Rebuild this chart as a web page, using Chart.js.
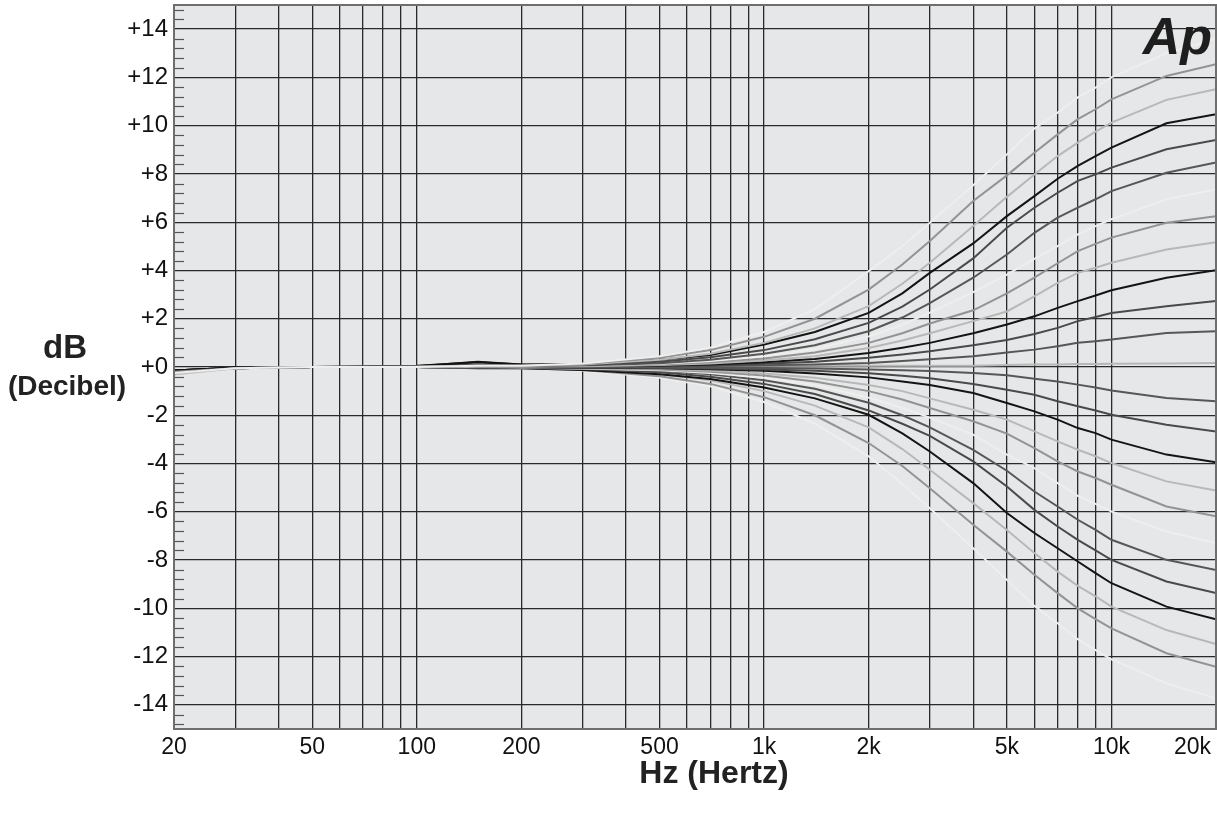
<!DOCTYPE html>
<html><head><meta charset="utf-8">
<script src="https://cdn.jsdelivr.net/npm/chart.js@4.4.0/dist/chart.umd.min.js"></script>
<style>html,body{margin:0;padding:0;background:#fff;overflow:hidden}#wrap{width:1217px;height:818px;position:relative}</style>
</head><body><div id="wrap"><canvas id="c"></canvas></div>
<script>
// Frequency sample points (Hz)
const freqHz = [20,30,50,100,150,200,300,500,700,1000,1400,2000,2500,3000,4000,5000,6000,7000,8000,9000,10000,14400,20000];

// Boost curves (dB), top to bottom at 20 kHz
const boostA = [-0.25,-0.05,0,0,0.05,0.05,0.15,0.45,0.8,1.45,2.4,3.97,5.0,5.98,7.53,8.81,9.88,10.54,11.17,11.58,12.0,13.0,13.6];
const boostB = [-0.2,-0.05,0,0,0.05,0.05,0.12,0.38,0.7,1.25,2.0,3.21,4.25,5.22,6.88,7.94,8.88,9.64,10.27,10.68,11.09,12.06,12.55];
const boostC = [-0.3,-0.05,0,0.02,0.05,0.05,0.1,0.3,0.55,1.0,1.6,2.52,3.45,4.32,5.84,7.05,7.98,8.74,9.3,9.75,10.13,11.07,11.51];
const boostD = [-0.15,-0.03,0,0.05,0.2,0.1,0.12,0.3,0.5,0.93,1.45,2.24,3.05,3.9,5.12,6.25,7.08,7.8,8.33,8.74,9.09,10.1,10.47];
const boostE = [-0.2,-0.05,0,0,0.05,0.05,0.08,0.22,0.4,0.7,1.15,1.83,2.5,3.21,4.5,5.77,6.6,7.22,7.71,7.98,8.26,9.02,9.41];
const boostF = [-0.2,-0.05,0,0,0.05,0.05,0.06,0.16,0.3,0.55,0.9,1.48,2.05,2.65,3.7,4.66,5.56,6.19,6.6,6.95,7.29,8.05,8.47];
const boostG = [-0.3,-0.05,0,0,0.03,0.03,0.05,0.13,0.25,0.45,0.75,1.27,1.75,2.25,3.1,3.83,4.48,5.01,5.49,5.84,6.12,6.95,7.36];
const boostH = [-0.25,-0.05,0,0,0.03,0.03,0.04,0.1,0.2,0.35,0.6,1.0,1.4,1.8,2.35,3.05,3.7,4.3,4.8,5.1,5.36,5.98,6.25];
const boostI = [-0.25,-0.04,0,0,0.03,0.03,0.03,0.08,0.15,0.27,0.45,0.79,1.1,1.4,1.9,2.3,2.93,3.49,3.9,4.11,4.32,4.87,5.17];
const boostJ = [-0.15,-0.03,0,0.03,0.22,0.1,0.05,0.06,0.1,0.2,0.33,0.58,0.8,1.0,1.4,1.76,2.1,2.45,2.73,2.96,3.18,3.7,4.01];
const boostK = [-0.2,-0.04,0,0,0.1,0.05,0.03,0.04,0.07,0.13,0.22,0.38,0.52,0.65,0.9,1.12,1.37,1.62,1.9,2.07,2.24,2.52,2.73];
const boostL = [-0.2,-0.04,0,0,0.08,0.04,0.02,0.02,0.04,0.07,0.1,0.17,0.25,0.32,0.45,0.6,0.72,0.86,1.0,1.07,1.14,1.41,1.48];
const flatCurve = [-0.3,-0.05,0,0.02,0.05,0.05,0.05,0.05,0.05,0.05,0.05,0.05,0.05,0.05,0.05,0.08,0.1,0.1,0.12,0.12,0.13,0.15,0.17];

// Cut curves (dB)
const cutL = [-0.2,-0.04,0,0,-0.02,0,0,-0.02,-0.03,-0.04,-0.06,-0.1,-0.13,-0.17,-0.25,-0.34,-0.49,-0.6,-0.73,-0.85,-0.97,-1.28,-1.42];
const cutK = [-0.2,-0.04,0,0,-0.02,0,-0.02,-0.03,-0.06,-0.1,-0.16,-0.26,-0.36,-0.47,-0.7,-0.94,-1.15,-1.42,-1.63,-1.8,-1.98,-2.39,-2.67];
const cutJ = [-0.15,-0.03,0,0,-0.03,-0.01,-0.03,-0.05,-0.09,-0.16,-0.27,-0.43,-0.6,-0.75,-1.08,-1.49,-1.84,-2.18,-2.53,-2.74,-3.01,-3.63,-3.95];
const cutI = [-0.25,-0.04,0,0,-0.03,-0.02,-0.04,-0.08,-0.15,-0.27,-0.45,-0.75,-1.0,-1.3,-1.77,-2.18,-2.67,-3.08,-3.43,-3.7,-3.98,-4.74,-5.12];
const cutH = [-0.25,-0.05,0,0,-0.03,-0.02,-0.05,-0.1,-0.2,-0.35,-0.6,-1.0,-1.35,-1.7,-2.25,-2.76,-3.36,-3.91,-4.33,-4.6,-4.88,-5.78,-6.19];
const cutG = [-0.3,-0.05,0,0,-0.03,-0.03,-0.06,-0.13,-0.25,-0.45,-0.75,-1.27,-1.7,-2.1,-2.8,-3.63,-4.19,-4.81,-5.34,-5.67,-5.99,-6.82,-7.3];
const cutF = [-0.2,-0.05,0,0,-0.03,-0.03,-0.07,-0.16,-0.3,-0.55,-0.9,-1.48,-2.0,-2.5,-3.43,-4.3,-5.16,-5.78,-6.33,-6.75,-7.16,-7.99,-8.41];
const cutE = [-0.2,-0.05,0,0,-0.03,-0.03,-0.08,-0.22,-0.4,-0.7,-1.12,-1.8,-2.35,-2.85,-3.91,-4.95,-5.92,-6.61,-7.16,-7.6,-7.99,-8.89,-9.37];
const cutD = [-0.15,-0.03,0,0,-0.05,-0.05,-0.12,-0.3,-0.5,-0.85,-1.3,-1.98,-2.75,-3.5,-4.81,-6.05,-6.88,-7.51,-8.06,-8.54,-8.96,-9.93,-10.45];
const cutC = [-0.3,-0.05,0,0,-0.03,-0.04,-0.1,-0.3,-0.55,-1.0,-1.6,-2.5,-3.4,-4.26,-5.64,-6.75,-7.71,-8.48,-9.07,-9.5,-9.93,-10.9,-11.48];
const cutB = [-0.2,-0.05,0,0,-0.03,-0.05,-0.12,-0.38,-0.7,-1.25,-2.0,-3.15,-4.1,-5.02,-6.54,-7.65,-8.61,-9.37,-10.0,-10.45,-10.83,-11.86,-12.42];
const cutA = [-0.25,-0.05,0,0,-0.03,-0.05,-0.15,-0.45,-0.8,-1.45,-2.35,-3.7,-4.85,-5.85,-7.51,-8.82,-9.9,-10.62,-11.28,-11.73,-12.11,-13.11,-13.73];

// Axis ticks
const xGridHz = [20,30,40,50,60,70,80,90,100,200,300,400,500,600,700,800,900,1000,2000,3000,4000,5000,6000,7000,8000,9000,10000,20000];
const xTickHz = [20,50,100,200,500,1000,2000,5000,10000,20000];
const xTickLabels = ['20','50','100','200','500','1k','2k','5k','10k','20k'];
const yTickValues = [-14,-12,-10,-8,-6,-4,-2,0,2,4,6,8,10,12,14];
const yTickLabels = ['-14','-12','-10','-8','-6','-4','-2','+0','+2','+4','+6','+8','+10','+12','+14'];
const yMinorTicks = [-14.8,-14.4,-13.6,-13.2,-12.8,-12.4,-11.6,-11.2,-10.8,-10.4,-9.6,-9.2,-8.8,-8.4,-7.6,-7.2,-6.8,-6.4,-5.6,-5.2,-4.8,-4.4,-3.6,-3.2,-2.8,-2.4,-1.6,-1.2,-0.8,-0.4,0.4,0.8,1.2,1.6,2.4,2.8,3.2,3.6,4.4,4.8,5.2,5.6,6.4,6.8,7.2,7.6,8.4,8.8,9.2,9.6,10.4,10.8,11.2,11.6,12.4,12.8,13.2,13.6,14.4,14.8];

const C_VLIGHT = '#eeeeee', C_GRAY = '#939393', C_LIGHT = '#b8b8b8', C_BLACK = '#141414', C_DARK = '#4a4a4a', C_DARK2 = '#575757';

const series = [
  [boostA, C_VLIGHT],[boostB, C_GRAY],[boostC, C_LIGHT],[boostD, C_BLACK],[boostE, C_DARK],[boostF, C_DARK2],
  [boostG, C_VLIGHT],[boostH, C_GRAY],[boostI, C_LIGHT],[boostJ, C_BLACK],[boostK, C_DARK],[boostL, C_DARK2],
  [flatCurve, C_LIGHT],
  [cutL, C_DARK2],[cutK, C_DARK],[cutJ, C_BLACK],[cutI, C_LIGHT],[cutH, C_GRAY],[cutG, C_VLIGHT],
  [cutF, C_DARK2],[cutE, C_DARK],[cutD, C_BLACK],[cutC, C_LIGHT],[cutB, C_GRAY],[cutA, C_VLIGHT]
];

const datasets = series.map(([vals, col]) => ({
  data: freqHz.map((f, i) => ({x: f, y: vals[i]})),
  borderColor: col, borderWidth: 2, pointRadius: 0, tension: 0, fill: false
}));

const FONT = "'Liberation Sans', Arial, Helvetica, sans-serif";

const decor = {
  id: 'decor',
  beforeDraw(chart) {
    const {ctx, chartArea: a} = chart;
    ctx.save();
    ctx.fillStyle = '#e6e7e8';
    ctx.fillRect(a.left, a.top, a.right - a.left, a.bottom - a.top);
    ctx.restore();
  },
  afterDraw(chart) {
    const {ctx, chartArea: a, scales} = chart;
    const ys = scales.y, xs = scales.x;
    ctx.save();
    // minor ticks on left edge
    ctx.strokeStyle = '#555';
    ctx.lineWidth = 1.2;
    yMinorTicks.forEach(v => {
      const py = Math.round(ys.getPixelForValue(v)) + 0.5;
      ctx.beginPath(); ctx.moveTo(a.left, py); ctx.lineTo(a.left + 10, py); ctx.stroke();
    });
    // border
    ctx.strokeStyle = '#6e6e6e';
    ctx.lineWidth = 2;
    ctx.strokeRect(a.left, a.top, a.right - a.left, a.bottom - a.top);
    // x tick labels
    ctx.fillStyle = '#111';
    ctx.font = '23px ' + FONT;
    ctx.textBaseline = 'middle';
    xTickHz.forEach((f, i) => {
      const px = xs.getPixelForValue(f);
      if (i === xTickHz.length - 1) { ctx.textAlign = 'right'; ctx.fillText(xTickLabels[i], 1211, 748); }
      else { ctx.textAlign = 'center'; ctx.fillText(xTickLabels[i], px, 748); }
    });
    // axis titles
    ctx.fillStyle = '#222';
    ctx.textAlign = 'center';
    ctx.font = 'bold 32px ' + FONT;
    ctx.fillText('Hz (Hertz)', 714, 774);
    ctx.font = 'bold 33px ' + FONT;
    ctx.fillText('dB', 65, 349);
    ctx.font = 'bold 28px ' + FONT;
    ctx.fillText('(Decibel)', 67, 387);
    // Ap logo
    ctx.font = 'italic bold 52px ' + FONT;
    ctx.textAlign = 'right';
    ctx.textBaseline = 'alphabetic';
    ctx.fillStyle = '#1e1e1e';
    ctx.fillText('Ap', 1212, 54);
    ctx.restore();
  }
};

new Chart(document.getElementById('c'), {
  type: 'line',
  data: {datasets},
  plugins: [decor],
  options: {
    responsive: true, maintainAspectRatio: false, animation: false, devicePixelRatio: 1,
    layout: {padding: {top: 5, right: 1, left: 0, bottom: 0}},
    plugins: {legend: {display: false}, tooltip: {enabled: false}},
    scales: {
      x: {
        type: 'logarithmic', min: 20, max: 20000,
        afterBuildTicks: s => { s.ticks = xGridHz.map(v => ({value: v})); },
        afterFit: s => { s.height = 89; s.paddingLeft = 0; s.paddingRight = 0; },
        ticks: {display: false},
        grid: {color: '#2a2a2a', lineWidth: 1.3, drawTicks: false},
        border: {display: false}
      },
      y: {
        type: 'linear', min: -15, max: 15,
        afterBuildTicks: s => { s.ticks = yTickValues.map(v => ({value: v})); },
        afterFit: s => { s.width = 174; s.paddingTop = 0; s.paddingBottom = 0; },
        ticks: {
          padding: 6, color: '#111', font: {family: FONT, size: 24},
          callback: (v) => { const i = yTickValues.indexOf(v); return i >= 0 ? yTickLabels[i] : ''; }
        },
        grid: {color: '#2a2a2a', lineWidth: 1.3, drawTicks: false},
        border: {display: false}
      }
    }
  }
});
</script>
</body></html>
